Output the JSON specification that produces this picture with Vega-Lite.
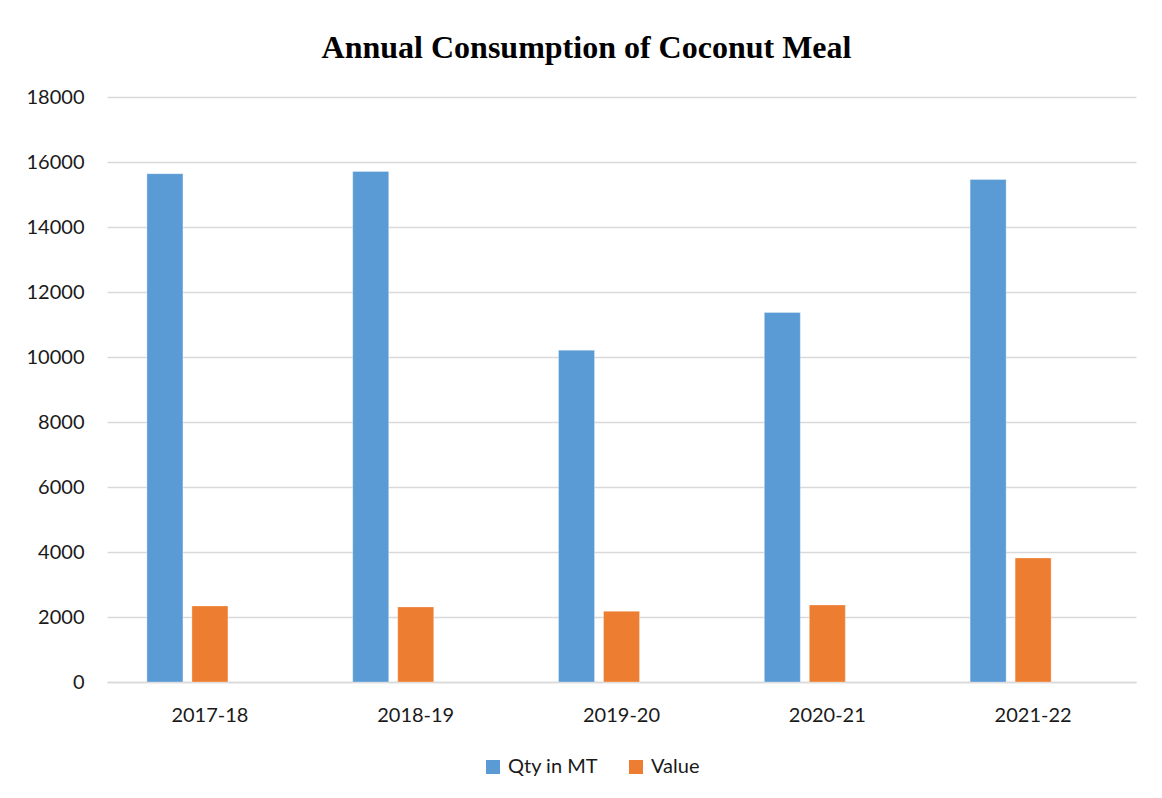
{
  "$schema": "https://vega.github.io/schema/vega-lite/v6.json",
  "autosize": {"type": "none"},
  "width": 1029,
  "height": 585,
  "padding": {"left": 107, "top": 97, "right": 26, "bottom": 116},
  "background": "white",
  "title": {
    "text": "Annual Consumption of Coconut Meal",
    "font": "Liberation Serif",
    "fontSize": 32,
    "fontWeight": "bold",
    "color": "#000000",
    "anchor": "middle",
    "frame": "group",
    "dx": -35,
    "dy": 43,
    "baseline": "alphabetic",
    "offset": 40
  },
  "data": {
    "values": [
      {"year": "2017-18", "series": "Qty in MT", "amount": 15640},
      {"year": "2017-18", "series": "Value", "amount": 2340},
      {"year": "2018-19", "series": "Qty in MT", "amount": 15710},
      {"year": "2018-19", "series": "Value", "amount": 2310},
      {"year": "2019-20", "series": "Qty in MT", "amount": 10210},
      {"year": "2019-20", "series": "Value", "amount": 2175},
      {"year": "2020-21", "series": "Qty in MT", "amount": 11370},
      {"year": "2020-21", "series": "Value", "amount": 2370},
      {"year": "2021-22", "series": "Qty in MT", "amount": 15460},
      {"year": "2021-22", "series": "Value", "amount": 3815}
    ]
  },
  "mark": {"type": "bar", "stroke": "white", "strokeWidth": 0.5, "strokeOpacity": 0.6},
  "encoding": {
    "x": {
      "field": "year",
      "type": "nominal",
      "scale": {"paddingInner": 0.388, "paddingOuter": 0.194},
      "axis": {
        "title": null,
        "labelAngle": 0,
        "labelFont": "Lato",
        "labelFontSize": 20,
        "labelColor": "#1a1a1a",
        "labelPadding": 23,
        "ticks": false,
        "domainColor": "#d9d9d9",
        "domainWidth": 1.5
      }
    },
    "xOffset": {
      "field": "series",
      "type": "nominal",
      "scale": {"range": [0, 81], "paddingInner": 0.2, "paddingOuter": 0}
    },
    "y": {
      "field": "amount",
      "type": "quantitative",
      "scale": {"domain": [0, 18000], "nice": false},
      "axis": {
        "title": null,
        "values": [0, 2000, 4000, 6000, 8000, 10000, 12000, 14000, 16000, 18000],
        "format": "d",
        "labelFont": "Lato",
        "labelFontSize": 20,
        "labelColor": "#1a1a1a",
        "labelPadding": 23,
        "ticks": false,
        "domain": false,
        "grid": true,
        "gridColor": "#d9d9d9",
        "gridWidth": 1.5
      }
    },
    "color": {
      "field": "series",
      "type": "nominal",
      "scale": {"domain": ["Qty in MT", "Value"], "range": ["#5b9bd5", "#ed7d31"]},
      "legend": {
        "title": null,
        "orient": "none",
        "direction": "horizontal",
        "legendX": 376,
        "legendY": 660,
        "symbolType": "square",
        "symbolSize": 196,
        "symbolStrokeWidth": 0,
        "labelFont": "Lato",
        "labelFontSize": 20,
        "labelColor": "#1a1a1a",
        "labelOffset": 5,
        "columnPadding": 27
      }
    }
  },
  "config": {
    "view": {"stroke": null}
  }
}
